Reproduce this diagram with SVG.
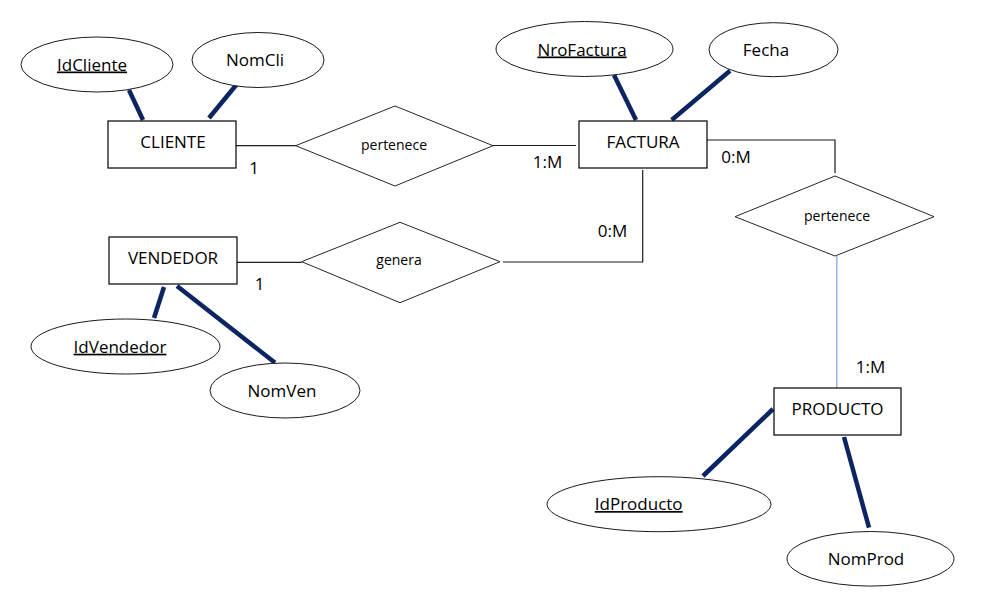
<svg xmlns="http://www.w3.org/2000/svg" width="996" height="598" viewBox="0 0 996 598">
  <style>
    .bg { fill: #ffffff; }
    .ent { fill: #ffffff; stroke: #000000; stroke-width: 1.2; }
    .attr { fill: #ffffff; stroke: #1a1a1a; stroke-width: 1; }
    .rel { fill: #ffffff; stroke: #262626; stroke-width: 1; }
    .link { fill: none; stroke: #1a1a1a; stroke-width: 1.2; }
    .link-blue { fill: none; stroke: #8eaad8; stroke-width: 1.3; }
    .attr-link { stroke: #0d2463; stroke-width: 4.5; stroke-linecap: butt; }
    text { font-family: "Open Sans", "Noto Sans", "Liberation Sans", sans-serif; fill: #000000; text-anchor: middle; }
    .t-ent { font-size: 17px; }
    .t-attr { font-size: 17px; }
    .t-rel { font-size: 14px; }
    .t-card { font-size: 17px; }
    .key { text-decoration: underline; }
  </style>

  <rect class="bg" x="0" y="0" width="996" height="598"/>

  <!-- connectors: relationship lines and attribute links -->
  <g id="connectors">
    <!-- CLIENTE - pertenece - FACTURA -->
    <line class="link" x1="236" y1="145.7" x2="296" y2="145.7"/>
    <line class="link" x1="493" y1="145.5" x2="576" y2="145.5"/>
    <!-- VENDEDOR - genera - FACTURA -->
    <line class="link" x1="237" y1="262.3" x2="301.7" y2="262.3"/>
    <polyline class="link" points="503,262 642.7,262 642.7,170"/>
    <!-- FACTURA - pertenece - PRODUCTO -->
    <polyline class="link" points="707,140 835,140 835,173"/>
    <line class="link-blue" x1="836.8" y1="256" x2="836.8" y2="388"/>

    <!-- attribute links -->
    <line class="attr-link" x1="129" y1="90" x2="143" y2="120"/>
    <line class="attr-link" x1="237" y1="84" x2="209" y2="118"/>
    <line class="attr-link" x1="614" y1="75" x2="636" y2="120"/>
    <line class="attr-link" x1="730" y1="70.7" x2="671.7" y2="120"/>
    <line class="attr-link" x1="164" y1="287" x2="154" y2="318"/>
    <line class="attr-link" x1="177" y1="286" x2="275" y2="362.7"/>
    <line class="attr-link" x1="773" y1="409" x2="703" y2="476"/>
    <line class="attr-link" x1="844" y1="437" x2="869" y2="527.7"/>
  </g>

  <!-- entities -->
  <g id="cliente">
    <rect class="ent" x="108" y="121" width="128" height="47"/>
    <text class="t-ent" x="173" y="147.8">CLIENTE</text>
  </g>
  <g id="factura">
    <rect class="ent" x="579" y="121" width="128" height="47"/>
    <text class="t-ent" x="643" y="147.7">FACTURA</text>
  </g>
  <g id="vendedor">
    <rect class="ent" x="109" y="237" width="128" height="47"/>
    <text class="t-ent" x="173" y="264">VENDEDOR</text>
  </g>
  <g id="producto">
    <rect class="ent" x="774" y="388" width="127" height="47"/>
    <text class="t-ent" x="837.5" y="415">PRODUCTO</text>
  </g>

  <!-- relationships -->
  <g id="rel-pertenece-cliente">
    <polygon class="rel" points="295.7,145.7 395,106 493,145.7 395,186"/>
    <text class="t-rel" x="394" y="150">pertenece</text>
  </g>
  <g id="rel-genera">
    <polygon class="rel" points="301.7,261.7 400,222.3 500,261.7 400,302.7"/>
    <text class="t-rel" x="399" y="264.5">genera</text>
  </g>
  <g id="rel-pertenece-producto">
    <polygon class="rel" points="735,216.7 835,176 934,216.7 835,256"/>
    <text class="t-rel" x="837" y="220.5">pertenece</text>
  </g>

  <!-- attributes -->
  <g id="attr-idcliente">
    <ellipse class="attr" cx="97" cy="64.5" rx="76" ry="27.5"/>
    <text class="t-attr key" x="92" y="70.5">IdCliente</text>
  </g>
  <g id="attr-nomcli">
    <ellipse class="attr" cx="258" cy="60" rx="66" ry="27.5"/>
    <text class="t-attr" x="255" y="66">NomCli</text>
  </g>
  <g id="attr-nrofactura">
    <ellipse class="attr" cx="584.5" cy="49" rx="88.5" ry="27.5"/>
    <text class="t-attr key" x="582" y="55.5">NroFactura</text>
  </g>
  <g id="attr-fecha">
    <ellipse class="attr" cx="773.5" cy="49.7" rx="64.5" ry="27"/>
    <text class="t-attr" x="766" y="55.7">Fecha</text>
  </g>
  <g id="attr-idvendedor">
    <ellipse class="attr" cx="125.5" cy="346.5" rx="94.5" ry="27.5"/>
    <text class="t-attr key" x="120" y="352.7">IdVendedor</text>
  </g>
  <g id="attr-nomven">
    <ellipse class="attr" cx="285" cy="390.5" rx="75" ry="27.5"/>
    <text class="t-attr" x="282" y="396.7">NomVen</text>
  </g>
  <g id="attr-idproducto">
    <ellipse class="attr" cx="659" cy="504.2" rx="112" ry="27.5"/>
    <text class="t-attr key" x="638.7" y="510">IdProducto</text>
  </g>
  <g id="attr-nomprod">
    <ellipse class="attr" cx="870.5" cy="558.8" rx="83.5" ry="27.3"/>
    <text class="t-attr" x="866" y="565">NomProd</text>
  </g>

  <!-- cardinalities -->
  <g id="cardinalities">
    <text class="t-card" x="254" y="174.3">1</text>
    <text class="t-card" x="547.5" y="168">1:M</text>
    <text class="t-card" x="736" y="163">0:M</text>
    <text class="t-card" x="259.5" y="290">1</text>
    <text class="t-card" x="612.5" y="237.3">0:M</text>
    <text class="t-card" x="870.5" y="372.7">1:M</text>
  </g>
</svg>
